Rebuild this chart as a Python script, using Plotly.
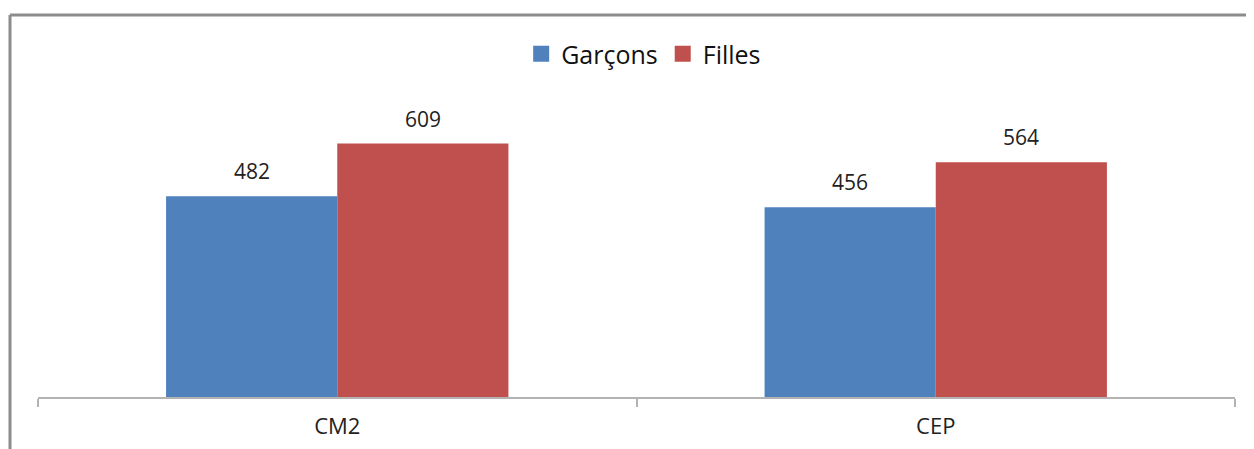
import plotly.graph_objects as go

categories = ["CM2", "CEP"]
garcons = [482, 456]
filles = [609, 564]
series_names = ["Garçons", "Filles"]
colors = ["#4F81BD", "#C0504D"]

# page body has an 8px margin; figure sized to fill the remaining window
W, H = 1246, 441
ml, mr, mt, mb = 30, 19, 56, 52
pw, ph = W - ml - mr, H - mt - mb
FONT = "Open Sans, sans-serif"

fig = go.Figure()
for name, vals, col in zip(series_names, (garcons, filles), colors):
    fig.add_trace(go.Bar(x=categories, y=vals, name=name, marker_color=col,
                         marker_line_width=0, showlegend=False))
# legend entries with larger square swatches
for name, col in zip(series_names, colors):
    fig.add_trace(go.Scatter(x=[None], y=[None], mode="markers", name=name,
                             marker=dict(symbol="square", size=18, color=col)))

# value labels above bars
for vals, shift in ((garcons, -85.5), (filles, 85.5)):
    for c, v in zip(categories, vals):
        fig.add_annotation(x=c, y=v, text=str(v), showarrow=False, xshift=shift, yshift=25,
                           font=dict(family=FONT, size=21, color="#222"))

fig.update_layout(
    width=W, height=H,
    margin=dict(l=ml, r=mr, t=mt, b=mb, autoexpand=False),
    paper_bgcolor="white", plot_bgcolor="white",
    barmode="group", bargap=0.428, bargroupgap=0,
    font=dict(family=FONT, color="#222"),
    showlegend=True,
    legend=dict(orientation="h", x=0.506, xanchor="center", y=1 + (56 - 46) / ph, yanchor="middle",
                font=dict(size=25, color="#111"), itemwidth=30, traceorder="normal",
                bgcolor="rgba(0,0,0,0)", itemsizing="trace"),
    xaxis=dict(showline=True, linecolor="#b3b3b3", linewidth=2, ticks="outside",
               tickson="boundaries", ticklen=8, tickcolor="#b3b3b3", tickwidth=2,
               tickfont=dict(size=22, color="#222"), showgrid=False, range=[-0.5, 1.5],
               ticklabelstandoff=9, automargin=False),
    yaxis=dict(range=[0, 800], visible=False, showgrid=False, automargin=False),
    shapes=[
        dict(type="line", xref="paper", yref="paper",
             x0=(2 - ml) / pw, x1=(W + 5 - ml) / pw, y0=1 + (mt - 7) / ph, y1=1 + (mt - 7) / ph,
             line=dict(color="#8c8c8c", width=3)),
        dict(type="line", xref="paper", yref="paper",
             x0=(2 - ml) / pw, x1=(2 - ml) / pw, y0=1 + (mt - 7) / ph, y1=-(mb + 5) / ph,
             line=dict(color="#8c8c8c", width=3)),
    ],
)

fig.write_html("out.html")
